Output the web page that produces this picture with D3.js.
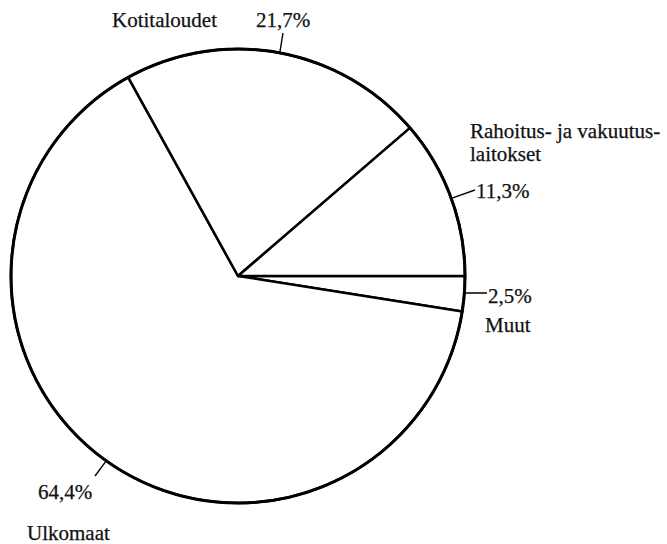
<!DOCTYPE html>
<html>
<head>
<meta charset="utf-8">
<script src="https://cdn.jsdelivr.net/npm/d3@7"></script>
<style>
  body { margin: 0; background: #fff; }
  svg text { font-family: "Liberation Serif", "DejaVu Serif", serif; font-size: 21px; fill: #111; stroke: #111; stroke-width: 0.25; }
</style>
</head>
<body>
<div id="chart"></div>
<script>
// data, in drawing order (clockwise from 3 o'clock)
const categories = ['Muut', 'Ulkomaat', 'Kotitaloudet', 'Rahoitus- ja vakuutuslaitokset'];
const values = [2.5, 64.4, 21.7, 11.3];
const valueLabels = ['2,5%', '64,4%', '21,7%', '11,3%'];
const nameLines = [['Muut'], ['Ulkomaat'], ['Kotitaloudet'], ['Rahoitus- ja vakuutus-', 'laitokset']];

const w = 667, h = 544;
const cx = 238, cy = 276, r = 227;

// label layout: leader angle on the rim (deg, clockwise from 12), leader end, text anchors
const layout = [
  {angle: 94.3, end: [487, 293], value: [488, 303], name: [485, 332]},
  {angle: 215.5, end: [95, 476], value: [38, 499], name: [27, 540]},
  {angle: 10.6, end: [283, 33], value: [256, 27], name: [112, 27]},
  {angle: 70, end: [475, 190], value: [476, 198], name: [470, 138]}
];

const svg = d3.select('#chart').append('svg')
  .attr('width', w)
  .attr('height', h);

const g = svg.append('g').attr('transform', 'translate(' + cx + ',' + cy + ')');

const pie = d3.pie()
  .sort(null)
  .value(function(d) { return d; })
  .startAngle(Math.PI / 2)
  .endAngle(Math.PI / 2 + 2 * Math.PI);

const arc = d3.arc().innerRadius(0).outerRadius(r);
const arcs = pie(values);

g.selectAll('path.slice')
  .data(arcs)
  .enter()
  .append('path')
  .attr('class', 'slice')
  .attr('d', arc)
  .attr('fill', '#fff')
  .attr('stroke', '#000')
  .attr('stroke-width', 2.5)
  .attr('stroke-linejoin', 'round');

// thicker rim
g.append('circle')
  .attr('r', r)
  .attr('fill', 'none')
  .attr('stroke', '#000')
  .attr('stroke-width', 3);

// leader lines and labels
layout.forEach(function(l, i) {
  const a = l.angle * Math.PI / 180;
  const x0 = cx + r * Math.sin(a);
  const y0 = cy - r * Math.cos(a);
  svg.append('line')
    .attr('x1', x0).attr('y1', y0)
    .attr('x2', l.end[0]).attr('y2', l.end[1])
    .attr('stroke', '#000')
    .attr('stroke-width', 1.4);

  svg.append('text')
    .attr('x', l.value[0])
    .attr('y', l.value[1])
    .text(valueLabels[i]);

  const t = svg.append('text')
    .attr('x', l.name[0])
    .attr('y', l.name[1]);
  nameLines[i].forEach(function(line, j) {
    t.append('tspan')
      .attr('x', l.name[0])
      .attr('dy', j === 0 ? 0 : 23)
      .text(line);
  });
});
</script>
</body>
</html>
